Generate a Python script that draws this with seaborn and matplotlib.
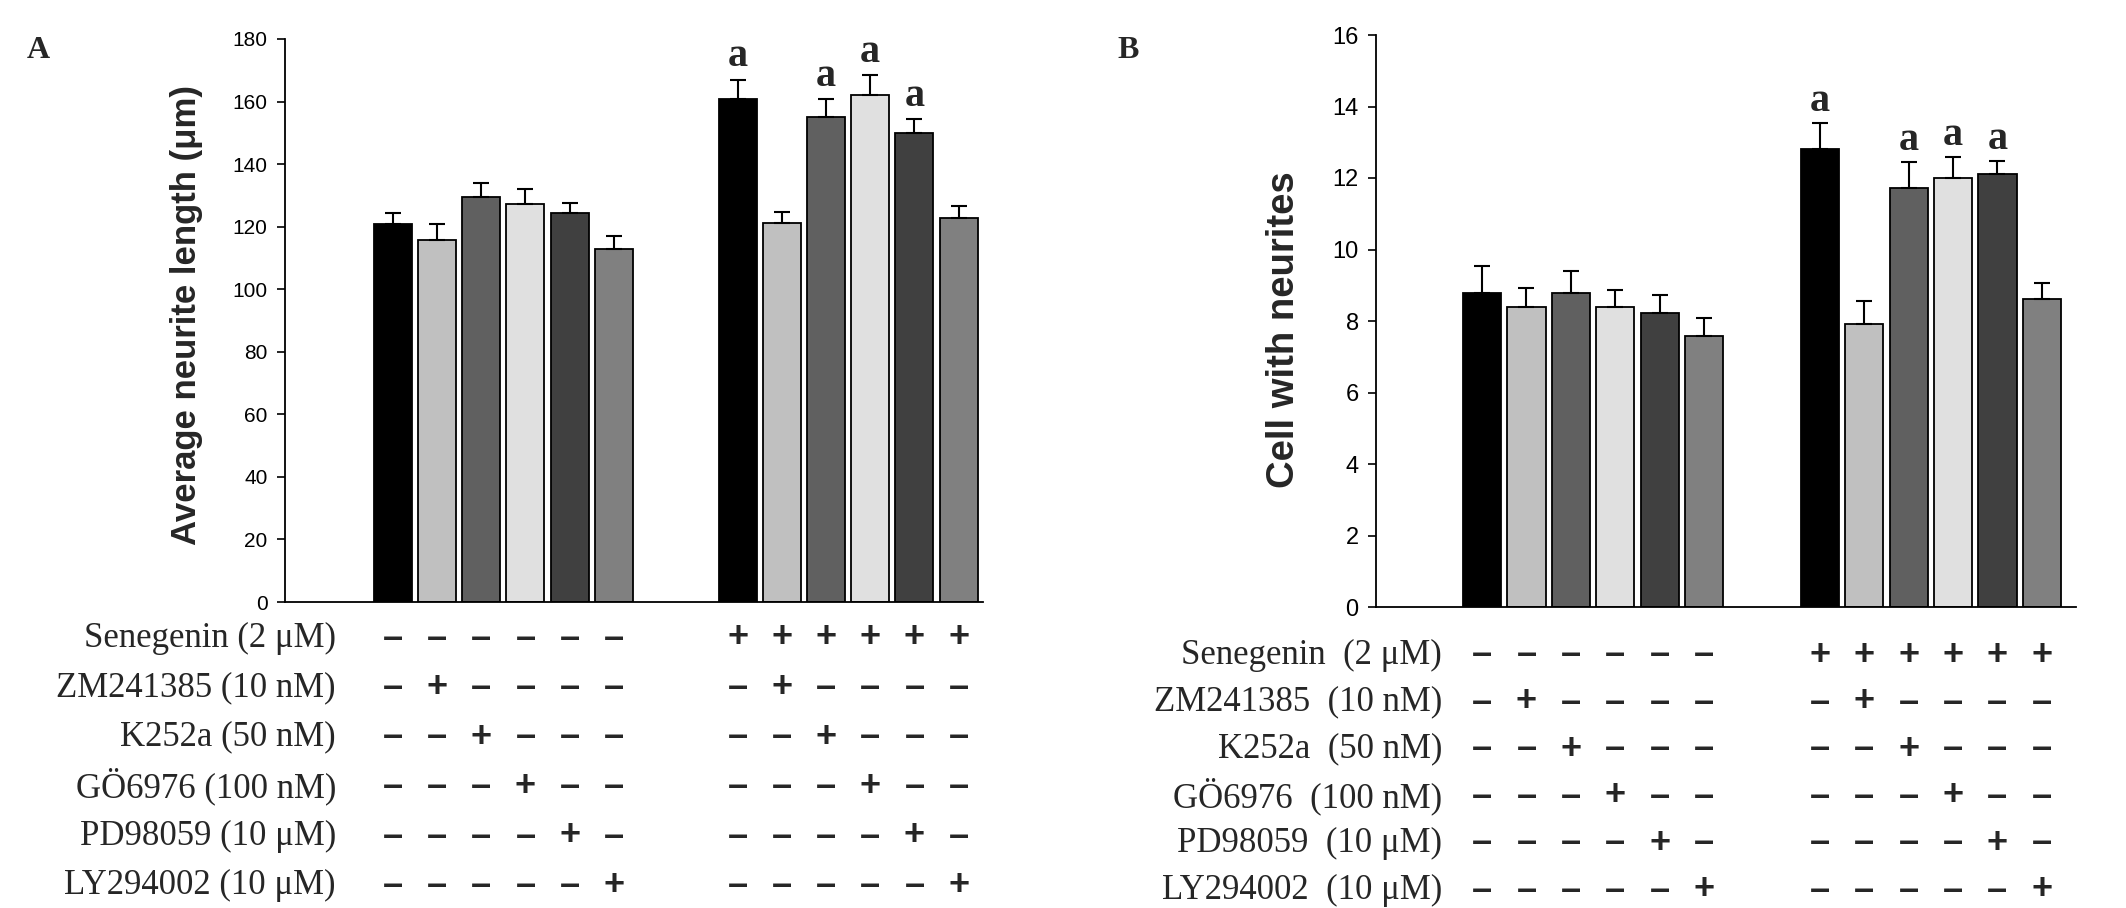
import numpy as np
import pandas as pd
import matplotlib
matplotlib.use('Agg')
import matplotlib.pyplot as plt
import matplotlib.transforms as mtransforms
import seaborn as sns

# bar order inside each group (first group without senegenin, second with it)
treatments = ['Control', 'ZM241385', 'K252a', 'GÖ6976', 'PD98059', 'LY294002']
bar_colors = ['#000000', '#c0c0c0', '#606060', '#e0e0e0', '#404040', '#808080']

# panel A - average neurite length (um), mean and upper error
length_mean = [120.7, 115.6, 129.6, 127.4, 124.3, 112.9,
               160.9, 121.3, 155.2, 162.2, 149.8, 122.7]
length_err = [3.6, 5.3, 4.5, 4.7, 3.4, 4.2,
              6.1, 3.4, 5.7, 6.3, 4.5, 3.8]
length_sig = [0, 0, 0, 0, 0, 0, 1, 0, 1, 1, 1, 0]

# panel B - cells with neurites
cells_mean = [8.79, 8.38, 8.79, 8.40, 8.22, 7.58,
              12.80, 7.91, 11.72, 11.99, 12.10, 8.62]
cells_err = [0.75, 0.54, 0.61, 0.47, 0.50, 0.49,
             0.75, 0.64, 0.72, 0.61, 0.37, 0.44]
cells_sig = [0, 0, 0, 0, 0, 0, 1, 0, 1, 1, 1, 0]

rows_a = ['Senegenin (2 μM)', 'ZM241385 (10 nM)', 'K252a (50 nM)',
          'GÖ6976 (100 nM)', 'PD98059 (10 μM)', 'LY294002 (10 μM)']
rows_b = ['Senegenin  (2 μM)', 'ZM241385  (10 nM)', 'K252a  (50 nM)',
          'GÖ6976  (100 nM)', 'PD98059  (10 μM)', 'LY294002  (10 μM)']
# 1 = added (+), 0 = not added (-)
signs = [
    [0, 0, 0, 0, 0, 0, 1, 1, 1, 1, 1, 1],
    [0, 1, 0, 0, 0, 0, 0, 1, 0, 0, 0, 0],
    [0, 0, 1, 0, 0, 0, 0, 0, 1, 0, 0, 0],
    [0, 0, 0, 1, 0, 0, 0, 0, 0, 1, 0, 0],
    [0, 0, 0, 0, 1, 0, 0, 0, 0, 0, 1, 0],
    [0, 0, 0, 0, 0, 1, 0, 0, 0, 0, 0, 1],
]

sns.set_style('ticks')
plt.rcParams['font.family'] = ['Liberation Sans', 'DejaVu Sans']
SERIF = ['Liberation Serif', 'DejaVu Serif']

W, H = 2126, 908
fig = plt.figure(figsize=(W / 100, H / 100), dpi=100)


def panel(rect, means, errs, sig, gap, xlim, ylim, yticks, ylabel, label_pos,
          label_size, tick_size, sig_off, rows, row_right, row_top, row_step,
          letter, letter_xy):
    ax = fig.add_axes(rect)
    pos = np.r_[np.arange(6), np.arange(6) + gap]
    df = pd.DataFrame({'pos': pos, 'value': means,
                       'treatment': treatments * 2})
    sns.barplot(data=df, x='pos', y='value', hue='treatment',
                palette=dict(zip(treatments, bar_colors)), native_scale=True,
                dodge=False, width=0.86, errorbar=None, edgecolor='black',
                linewidth=1.3, legend=False, ax=ax)
    ax.errorbar(pos, means, yerr=[np.zeros(len(errs)), errs], fmt='none',
                ecolor='black', elinewidth=1.5, capsize=6, capthick=1.5,
                zorder=1)
    for x, m, e, s in zip(pos, means, errs, sig):
        if s:
            ax.annotate('a', (x, m + e), xytext=(0, sig_off),
                        textcoords='offset points', ha='center',
                        va='baseline', fontsize=29, fontweight='bold',
                        family=SERIF)
    ax.set_xlim(*xlim)
    ax.set_ylim(*ylim)
    ax.set_yticks(yticks)
    ax.set_xticks([])
    ax.set_xlabel('')
    ax.set_ylabel(ylabel, fontsize=label_size, fontweight='bold')
    ax.yaxis.set_label_coords(*label_pos)
    ax.tick_params(axis='y', labelsize=tick_size, length=5.5, width=1.2,
                   pad=7, colors='black')
    for sp in ['top', 'right']:
        ax.spines[sp].set_visible(False)
    for sp in ['left', 'bottom']:
        ax.spines[sp].set_linewidth(1.3)
        ax.spines[sp].set_color('black')

    # treatment table under the bars
    trans = mtransforms.blended_transform_factory(ax.transData, fig.transFigure)
    for i, (lab, row) in enumerate(zip(rows, signs)):
        yf = 1 - (row_top + i * row_step) / H
        fig.text(row_right / W, yf, lab, ha='right', va='center',
                 fontsize=25, family=SERIF)
        for x, s in zip(pos, row):
            ax.text(x, yf, '+' if s else '–', transform=trans, ha='center',
                    va='center', fontsize=26, fontweight='heavy',
                    family=['Liberation Sans', 'DejaVu Sans'])
    fig.text(letter_xy[0] / W, 1 - letter_xy[1] / H, letter, ha='center',
             va='center', fontsize=23, fontweight='bold', family=SERIF)
    return ax


panel([285 / W, 1 - 602 / H, 698 / W, 563 / H], length_mean, length_err,
      length_sig, 7.8, (-2.44, 13.35), (0, 180), range(0, 181, 20),
      'Average neurite length (μm)', (-0.118, 0.51), 25, 15, 9.5,
      rows_a, 336, 638, 49.5, 'A', (38, 50))

panel([1376 / W, 1 - 607 / H, 700 / W, 572 / H], cells_mean, cells_err,
      cells_sig, 7.61, (-2.39, 13.38), (0, 16), range(0, 17, 2),
      'Cell with neurites', (-0.106, 0.485), 27.5, 17, 8.5,
      rows_b, 1442, 655, 47, 'B', (1128, 50))

fig.savefig('out.png', dpi=100, facecolor='white')
